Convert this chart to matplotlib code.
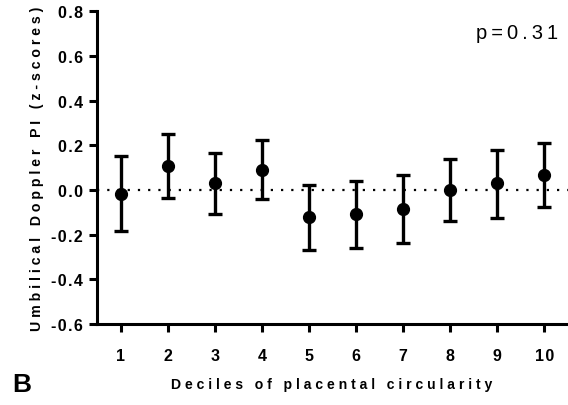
import numpy as np
import matplotlib
matplotlib.use("Agg")
import matplotlib.pyplot as plt

# Deciles and estimates
deciles = [1, 2, 3, 4, 5, 6, 7, 8, 9, 10]
means = [-0.018, 0.107, 0.030, 0.090, -0.120, -0.107, -0.085, 0.000, 0.030, 0.067]
lower = [-0.185, -0.035, -0.107, -0.040, -0.268, -0.260, -0.237, -0.139, -0.125, -0.077]
upper = [0.150, 0.250, 0.167, 0.224, 0.024, 0.040, 0.067, 0.140, 0.180, 0.210]
yticks = [-0.6, -0.4, -0.2, 0.0, 0.2, 0.4, 0.6, 0.8]

def spaced(s, sep="\u200a"):
    # Prism-style letter spacing
    return sep.join(s)

plt.rcParams['font.family'] = ['Liberation Sans', 'DejaVu Sans']

fig = plt.figure(figsize=(5.68, 4.06), dpi=100)
ax = fig.add_axes([0.171, 0.1995, 0.829, 0.7705])

means_a = np.array(means)
yerr = [means_a - np.array(lower), np.array(upper) - means_a]

ax.axhline(0, color='black', lw=1.6, ls=(0, (1, 3.6)), zorder=1)
ax.errorbar(deciles, means, yerr=yerr, fmt='o', color='black', ms=8.5,
            elinewidth=2.4, capsize=4.7, capthick=2.4, zorder=3)

ax.set_xlim(0.5, 10.5)
ax.set_ylim(-0.6, 0.8)
ax.set_xticks(deciles)
ax.set_xticklabels([spaced(str(d)) for d in deciles])
ax.set_yticks(yticks)
ax.set_yticklabels([spaced(f"{t:.1f}") for t in yticks])

for s in ['top', 'right']:
    ax.spines[s].set_visible(False)
for s in ['left', 'bottom']:
    ax.spines[s].set_linewidth(2.2)

ax.tick_params(axis='both', width=2.2, length=6, labelsize=11.5, direction='out')
ax.tick_params(axis='x', pad=11)
ax.tick_params(axis='y', pad=4)
for lab in ax.get_xticklabels() + ax.get_yticklabels():
    lab.set_fontweight('bold')

ax.set_ylabel(spaced("Umbilical Doppler PI (z-scores)", " "), fontsize=10.2,
              fontweight='bold', labelpad=5)
fig.text(0.583, 0.035, spaced("Deciles of placental circularity", " "),
         fontsize=10.1, fontweight='bold', ha='center', va='bottom')
fig.text(0.022, 0.022, "B", fontsize=19, fontweight='bold', ha='left', va='bottom')
ax.text(0.979, 0.931, spaced("p=0.31", "\u2009"), transform=ax.transAxes,
        fontsize=14.5, ha='right', va='center')

fig.savefig("out.png", dpi=100)
